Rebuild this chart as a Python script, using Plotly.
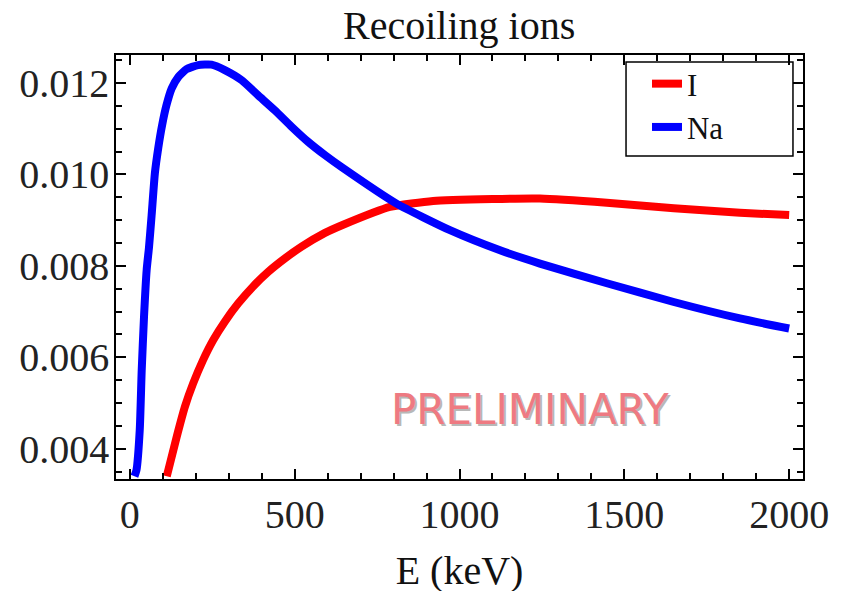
import plotly.graph_objects as go

# Data
E_na = [14, 20, 30, 36, 43, 51, 58, 66, 76, 86, 98, 111, 127, 147, 172, 207, 248,
        288, 339, 389, 440, 491, 541, 592, 642, 809, 971, 1123, 1244, 1447, 1650,
        1851, 2000]
v_na = [0.00340, 0.00353, 0.00441, 0.00572, 0.00689, 0.00791, 0.00840, 0.00910,
        0.01003, 0.01057, 0.01108, 0.01151, 0.01188, 0.01213, 0.01230, 0.01239,
        0.01240, 0.01228, 0.01206, 0.01173, 0.01140, 0.01104, 0.01071, 0.01042,
        0.01016, 0.00936, 0.00878, 0.00834, 0.00805, 0.00762, 0.00721, 0.00685,
        0.00663]

E_i = [112, 142, 167, 192, 222, 253, 288, 329, 374, 420, 470, 521, 592, 647, 789,
       920, 1100, 1244, 1447, 1650, 1851, 2000]
v_i = [0.00340, 0.00426, 0.00492, 0.00543, 0.00594, 0.00638, 0.00678, 0.00718,
       0.00755, 0.00787, 0.00816, 0.00842, 0.00872, 0.00890, 0.00929, 0.00942,
       0.00946, 0.00947, 0.00938, 0.00926, 0.00916, 0.00911]

x_ticks = [0, 500, 1000, 1500, 2000]
y_ticks = [0.004, 0.006, 0.008, 0.010, 0.012]
y_ticklabels = ["0.004", "0.006", "0.008", "0.010", "0.012"]

SERIF = "Liberation Serif, Times New Roman, serif"

fig = go.Figure()
fig.add_trace(go.Scatter(x=E_i, y=v_i, mode="lines", name="I",
                         line=dict(color="#ff0000", width=8, shape="spline", smoothing=0.5)))
fig.add_trace(go.Scatter(x=E_na, y=v_na, mode="lines", name="Na",
                         line=dict(color="#0000ff", width=8, shape="spline", smoothing=0.5)))

axis_common = dict(showline=True, linecolor="black", linewidth=1.5, mirror="allticks",
                   ticks="inside", ticklen=10, tickwidth=1.5, tickcolor="black",
                   showgrid=False, zeroline=False, automargin=False,
                   tickfont=dict(family=SERIF, size=40, color="#222222"))

fig.update_xaxes(range=[-42, 2042], tickvals=x_ticks,
                 minor=dict(dtick=100, ticks="inside", ticklen=6, tickwidth=1.5, tickcolor="black"),
                 title=dict(text="E (keV)", font=dict(family=SERIF, size=40, color="#111111"), standoff=20),
                 ticklabelstandoff=-1,
                 **axis_common)
fig.update_yaxes(range=[0.00334, 0.01261], tickvals=y_ticks, ticktext=y_ticklabels,
                 minor=dict(dtick=0.0005, tick0=0, ticks="inside", ticklen=6, tickwidth=1.5, tickcolor="black"),
                 ticklabelstandoff=-3,
                 **axis_common)

# The page body adds an 8 px offset, so margins are shifted to compensate
fig.update_layout(
    width=848, height=591,
    margin=dict(l=108, r=53, t=47, b=120),
    paper_bgcolor="white", plot_bgcolor="white",
    title=dict(text="Recoiling ions", x=0.532, xanchor="center", y=0.972, yanchor="middle",
               font=dict(family=SERIF, size=40, color="#111111")),
    legend=dict(x=0.7729, y=0.9953, xanchor="left", yanchor="top",
                borderwidth=0, bgcolor="rgba(0,0,0,0)",
                font=dict(family=SERIF, size=31, color="#111111"),
                tracegroupgap=0),
    showlegend=True,
)

# legend frame
fig.add_shape(type="rect", xref="paper", yref="paper",
              x0=0.7424, x1=0.9854, y0=0.7618, y1=0.9835,
              line=dict(color="black", width=1.5), fillcolor="white", layer="below")

# PRELIMINARY watermark with shadow
for col, dx, dy in [("#b8b8b8", 2, -2), ("#ee7a82", 0, 0)]:
    fig.add_annotation(text="PRELIMINARY", xref="paper", yref="paper",
                       x=0.6026, y=0.165, xanchor="center", yanchor="middle",
                       showarrow=False, xshift=dx, yshift=dy,
                       font=dict(family="DejaVu Sans, sans-serif", size=42, color=col))

fig.write_html("out.html")
